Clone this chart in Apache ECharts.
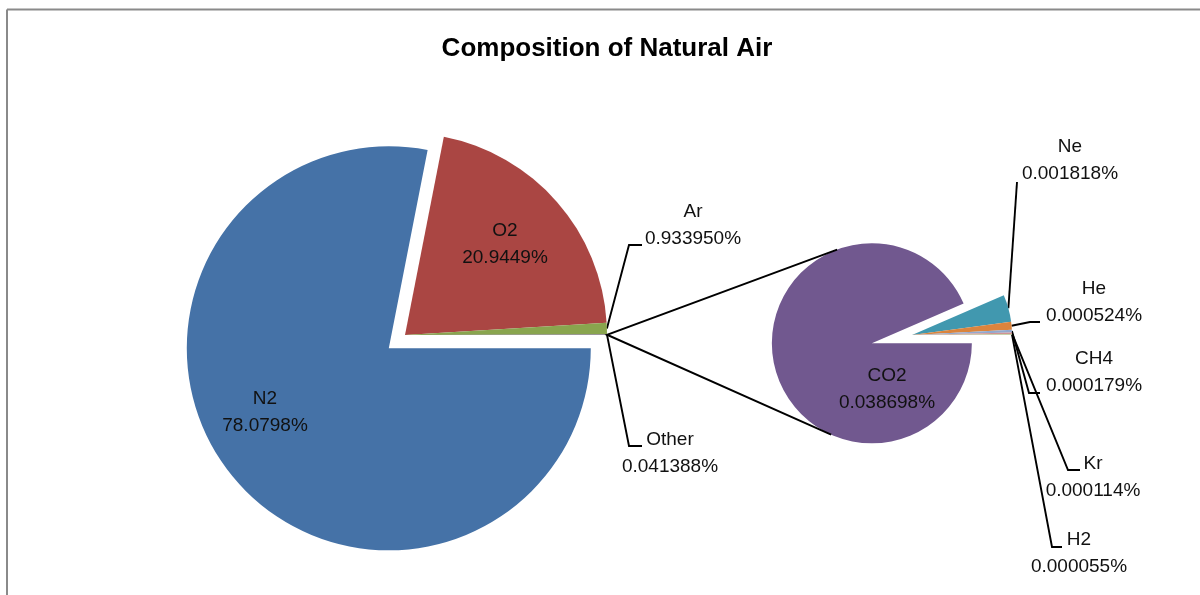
<!DOCTYPE html>
<html><head><meta charset="utf-8">
<script src="https://cdn.jsdelivr.net/npm/echarts@6/dist/echarts.min.js"></script>
<style>html,body{margin:0;padding:0;background:#fff}#c{width:1200px;height:595px}</style>
</head><body><div id="c"></div>
<script>
const TITLE = 'Composition of Natural Air';
const mainNames = ['N2', 'O2', 'Ar', 'Other'];
const mainValues = [78.0798, 20.9449, 0.933950, 0.041388];
const mainDecimals = [4, 4, 6, 6];
const subNames = ['CO2', 'Ne', 'He', 'CH4', 'Kr', 'H2'];
const subValues = [0.038698, 0.001818, 0.000524, 0.000179, 0.000114, 0.000055];
const subDecimals = [6, 6, 6, 6, 6, 6];

const mainColors = ['#4572A7', '#AA4643', '#89A54E', '#71588F'];
const subColors = ['#71588F', '#4198AF', '#DB843D', '#93A9CF', '#D19392', '#B9CD96'];

const FONT = "'Liberation Sans', Arial, sans-serif";
const MAIN = {cx: 405, cy: 335, r: 202, explode: 21, exploded: 'N2'};
const SUB = {cx: 912, cy: 335, r: 100, explode: 41, exploded: 'CO2'};
const LABELS = {
  N2: {x: 265, y: 412},
  O2: {x: 505, y: 244},
  Ar: {x: 693, y: 225, elbow: [629, 245], end: [642, 245]},
  Other: {x: 670, y: 453, elbow: [629, 446], end: [642, 446]},
  CO2: {x: 887, y: 389},
  Ne: {x: 1070, y: 160, elbow: [1017, 182], end: [1017, 182]},
  He: {x: 1094, y: 302, elbow: [1030, 322], end: [1040, 322]},
  CH4: {x: 1094, y: 372, elbow: [1029, 393], end: [1040, 393]},
  Kr: {x: 1093, y: 477, elbow: [1068, 470], end: [1080, 470]},
  H2: {x: 1079, y: 553, elbow: [1052, 547], end: [1062, 547]}
};

function midAngles(values) { // radians, clockwise from 3 o'clock
  const total = values.reduce((a, b) => a + b, 0);
  let acc = 0;
  return values.map(v => { const m = (acc + v / 2) / total * 2 * Math.PI; acc += v; return m; });
}
const mainMid = midAngles(mainValues);
const subMid = midAngles(subValues);

function edgePoint(geo, ang) {
  return [geo.cx + geo.r * Math.cos(ang), geo.cy + geo.r * Math.sin(ang)];
}

function makeLayout(names, mids, geo) {
  return function (params) {
    const n = names[params.dataIndex];
    const L = LABELS[n];
    const res = {x: L.x, y: L.y, align: 'center', verticalAlign: 'middle'};
    if (L.elbow) {
      res.labelLinePoints = [edgePoint(geo, mids[params.dataIndex]), L.elbow, L.end];
    }
    return res;
  };
}

function makeFormatter(names, values, decimals) {
  return function (p) {
    return names[p.dataIndex] + '\n' + values[p.dataIndex].toFixed(decimals[p.dataIndex]) + '%';
  };
}

// slices (with exploded slice), no labels
function pieSeries(names, values, colors, geo) {
  return {
    type: 'pie',
    center: [geo.cx, geo.cy],
    radius: [0, geo.r],
    startAngle: 0,
    clockwise: true,
    selectedMode: 'multiple',
    selectedOffset: geo.explode,
    animation: false,
    emphasis: {disabled: true, scale: false},
    itemStyle: {borderWidth: 0},
    label: {show: false},
    labelLine: {show: false},
    data: names.map((n, i) => ({
      name: n, value: values[i], selected: n === geo.exploded,
      itemStyle: {color: colors[i]},
      select: {itemStyle: {color: colors[i], borderWidth: 0}}
    }))
  };
}

// transparent twin carrying the data labels
function labelSeries(names, values, decimals, geo, mids) {
  return {
    type: 'pie',
    center: [geo.cx, geo.cy],
    radius: [0, geo.r],
    startAngle: 0,
    clockwise: true,
    selectedMode: false,
    silent: true,
    avoidLabelOverlap: false,
    animation: false,
    emphasis: {disabled: true, scale: false},
    itemStyle: {color: 'rgba(0,0,0,0)', borderWidth: 0},
    label: {
      show: true, color: '#111', fontFamily: FONT, fontSize: 19, lineHeight: 27,
      formatter: makeFormatter(names, values, decimals)
    },
    labelLine: {show: true, lineStyle: {color: '#000', width: 1.9}},
    labelLayout: makeLayout(names, mids, geo),
    data: names.map((n, i) => ({
      name: n, value: values[i],
      label: {position: LABELS[n].elbow ? 'outside' : 'inside'},
      labelLine: {show: !!LABELS[n].elbow}
    }))
  };
}

// connector lines: from the "Other" slice to tangents of the exploded CO2 pie
const otherIdx = mainNames.indexOf('Other');
const P = edgePoint(MAIN, mainMid[otherIdx]);
const co2Idx = subNames.indexOf(SUB.exploded);
const C = [SUB.cx + SUB.explode * Math.cos(subMid[co2Idx]), SUB.cy + SUB.explode * Math.sin(subMid[co2Idx])];
const dx = C[0] - P[0], dy = C[1] - P[1];
const d = Math.sqrt(dx * dx + dy * dy);
const beta = Math.atan2(dy, dx);
const alpha = Math.asin(SUB.r / d);
const Lt = Math.sqrt(d * d - SUB.r * SUB.r);
const T1 = [P[0] + Lt * Math.cos(beta - alpha), P[1] + Lt * Math.sin(beta - alpha)];
const T2 = [P[0] + Lt * Math.cos(beta + alpha), P[1] + Lt * Math.sin(beta + alpha)];

const chart = echarts.init(document.getElementById('c'), null, {renderer: 'canvas'});
chart.setOption({
  backgroundColor: '#fff',
  animation: false,
  graphic: [
    {type: 'line', shape: {x1: 7, y1: 9.5, x2: 1200, y2: 9.5}, style: {stroke: '#8a8a8a', lineWidth: 2}, silent: true},
    {type: 'line', shape: {x1: 7, y1: 9.5, x2: 7, y2: 595}, style: {stroke: '#8a8a8a', lineWidth: 2}, silent: true},
    {type: 'text', x: 607, y: 49, style: {text: TITLE, align: 'center', verticalAlign: 'middle', fontFamily: FONT, fontSize: 26, fontWeight: 'bold', fill: '#000'}, silent: true},
    {type: 'polyline', shape: {points: [T1, P, T2]}, style: {stroke: '#000', lineWidth: 1.9, fill: null}, z: 10, silent: true}
  ],
  series: [
    pieSeries(mainNames, mainValues, mainColors, MAIN),
    pieSeries(subNames, subValues, subColors, SUB),
    labelSeries(mainNames, mainValues, mainDecimals, MAIN, mainMid),
    labelSeries(subNames, subValues, subDecimals, SUB, subMid)
  ]
});
</script>
</body></html>
